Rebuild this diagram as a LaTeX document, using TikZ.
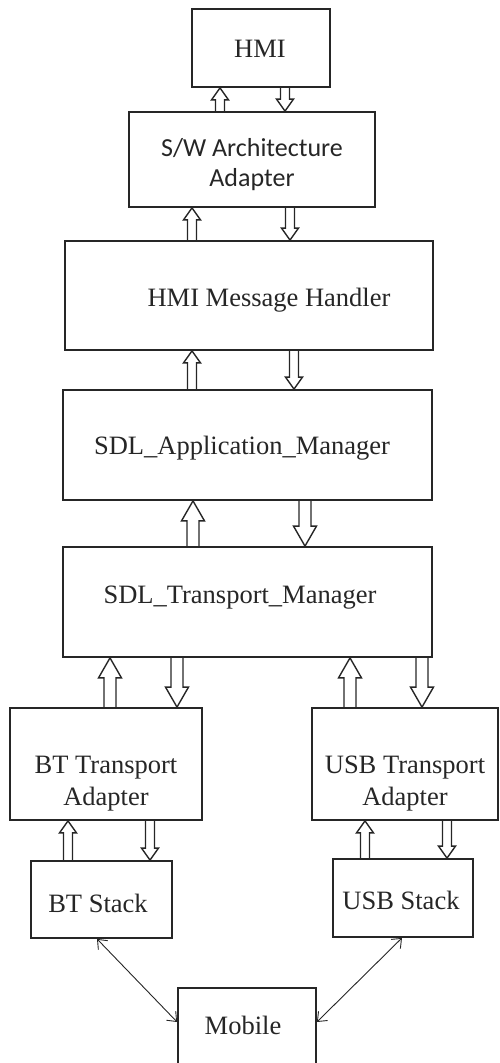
\documentclass[tikz,border=0pt]{standalone}
\usepackage{fontspec}
\setmainfont{Liberation Serif}
\newfontfamily\swfont{Carlito}
\usetikzlibrary{arrows.meta,calc}
\tikzset{
  box/.style={draw=black!85, line width=1.8pt, rectangle, inner sep=0pt},
  txt/.style={inner sep=0pt, align=center, font=\fontsize{26.5}{31}\selectfont, text=black!85},
  hsw/.initial=5pt, hhw/.initial=10pt, hhl/.initial=14pt,
  holbase/.style={draw=black!85, line width=1.4pt, line join=miter},
  holU/.style={holbase, to path={let \p1=(\tikztostart), \p2=(\tikztotarget) in
    (\x1-\pgfkeysvalueof{/tikz/hsw},\y1) -- (\x1-\pgfkeysvalueof{/tikz/hsw},\y2-\pgfkeysvalueof{/tikz/hhl})
    -- (\x1-\pgfkeysvalueof{/tikz/hhw},\y2-\pgfkeysvalueof{/tikz/hhl}) -- (\x1,\y2)
    -- (\x1+\pgfkeysvalueof{/tikz/hhw},\y2-\pgfkeysvalueof{/tikz/hhl}) -- (\x1+\pgfkeysvalueof{/tikz/hsw},\y2-\pgfkeysvalueof{/tikz/hhl})
    -- (\x1+\pgfkeysvalueof{/tikz/hsw},\y1)}},
  holD/.style={holbase, to path={let \p1=(\tikztostart), \p2=(\tikztotarget) in
    (\x1-\pgfkeysvalueof{/tikz/hsw},\y1) -- (\x1-\pgfkeysvalueof{/tikz/hsw},\y2+\pgfkeysvalueof{/tikz/hhl})
    -- (\x1-\pgfkeysvalueof{/tikz/hhw},\y2+\pgfkeysvalueof{/tikz/hhl}) -- (\x1,\y2)
    -- (\x1+\pgfkeysvalueof{/tikz/hhw},\y2+\pgfkeysvalueof{/tikz/hhl}) -- (\x1+\pgfkeysvalueof{/tikz/hsw},\y2+\pgfkeysvalueof{/tikz/hhl})
    -- (\x1+\pgfkeysvalueof{/tikz/hsw},\y1)}},
  small/.style={hsw=4.5pt, hhw=8.5pt, hhl=12pt},
  large/.style={hsw=6pt, hhw=11.5pt, hhl=20pt},
  thinarr/.style={draw=black!85, line width=0.9pt, {Straight Barb[length=8pt,width=13pt]}-{Straight Barb[length=8pt,width=13pt]}},
}
\begin{document}
\begin{tikzpicture}[x=1pt,y=-1pt]
\useasboundingbox (0,0) rectangle (499,1063);
\clip (0,0) rectangle (499,1063);

% boxes
\node[box, minimum width=138pt, minimum height=78pt]  (hmi)  at (261,48) {};
\node[box, minimum width=246pt, minimum height=95pt]  (sw)   at (252,159.5) {};
\node[box, minimum width=368pt, minimum height=109pt] (mh)   at (249,295.5) {};
\node[box, minimum width=369pt, minimum height=110pt] (app)  at (247.5,445) {};
\node[box, minimum width=369pt, minimum height=110pt] (tm)   at (247.5,602) {};
\node[box, minimum width=192pt, minimum height=112pt] (bta)  at (106,764) {};
\node[box, minimum width=186pt, minimum height=112pt] (usba) at (405,764) {};
\node[box, minimum width=141pt, minimum height=77pt]  (bts)  at (101.5,899.5) {};
\node[box, minimum width=140pt, minimum height=78pt]  (usbs) at (403,898) {};
\node[box, minimum width=138pt, minimum height=102pt] (mob)  at (247,1039) {};

% texts
\node[txt] (thmi) at (260,49) {HMI};
\node[txt, font=\swfont\fontsize{26}{30}\selectfont] (tsw) at (252,165) {S/W Architecture\\Adapter};
\node[txt] (tmh) at (269,300) {HMI Message Handler};
\node[txt] (tapp) at (242,448) {SDL\_Application\_Manager};
\node[txt] (ttm) at (240,598) {SDL\_Transport\_Manager};
\node[txt, font=\fontsize{26.5}{32}\selectfont] (tbta) at (106,784) {BT Transport\\Adapter};
\node[txt, font=\fontsize{26.5}{32}\selectfont] (tusba) at (405,784) {USB Transport\\Adapter};
\node[txt] (tbts) at (98,903) {BT Stack};
\node[txt] (tusbs) at (401,900) {USB Stack};
\node[txt] (tmob) at (243,1025) {Mobile};

% hollow arrows
\draw[holU, small] (sw.north -| 220,0) to (hmi.south -| 220,0);
\draw[holD, small] (hmi.south -| 285,0) to (sw.north -| 285,0);
\draw[holU, small] (mh.north -| 192,0) to (sw.south -| 192,0);
\draw[holD, small] (sw.south -| 290,0) to (mh.north -| 290,0);
\draw[holU, small] (app.north -| 192,0) to (mh.south -| 192,0);
\draw[holD, small] (mh.south -| 294,0) to (app.north -| 294,0);
\draw[holU, large] (tm.north -| 193,0) to (app.south -| 193,0);
\draw[holD, large] (app.south -| 305,0) to (tm.north -| 305,0);
\draw[holU, large] (bta.north -| 110,0) to (tm.south -| 110,0);
\draw[holD, large] (tm.south -| 177,0) to (bta.north -| 177,0);
\draw[holU, large] (usba.north -| 350,0) to (tm.south -| 350,0);
\draw[holD, large] (tm.south -| 422,0) to (usba.north -| 422,0);
\draw[holU, small] (bts.north -| 68,0) to (bta.south -| 68,0);
\draw[holD, small] (bta.south -| 150,0) to (bts.north -| 150,0);
\draw[holU, small] (usbs.north -| 365,0) to (usba.south -| 365,0);
\draw[holD, small] (usba.south -| 447,0) to (usbs.north -| 447,0);

% thin double arrows
\draw[thinarr] (bts.south -| 97,0) -- (mob.west |- 0,1022);
\draw[thinarr] (usbs.south -| 402,0) -- (mob.east |- 0,1022);
\end{tikzpicture}
\end{document}
